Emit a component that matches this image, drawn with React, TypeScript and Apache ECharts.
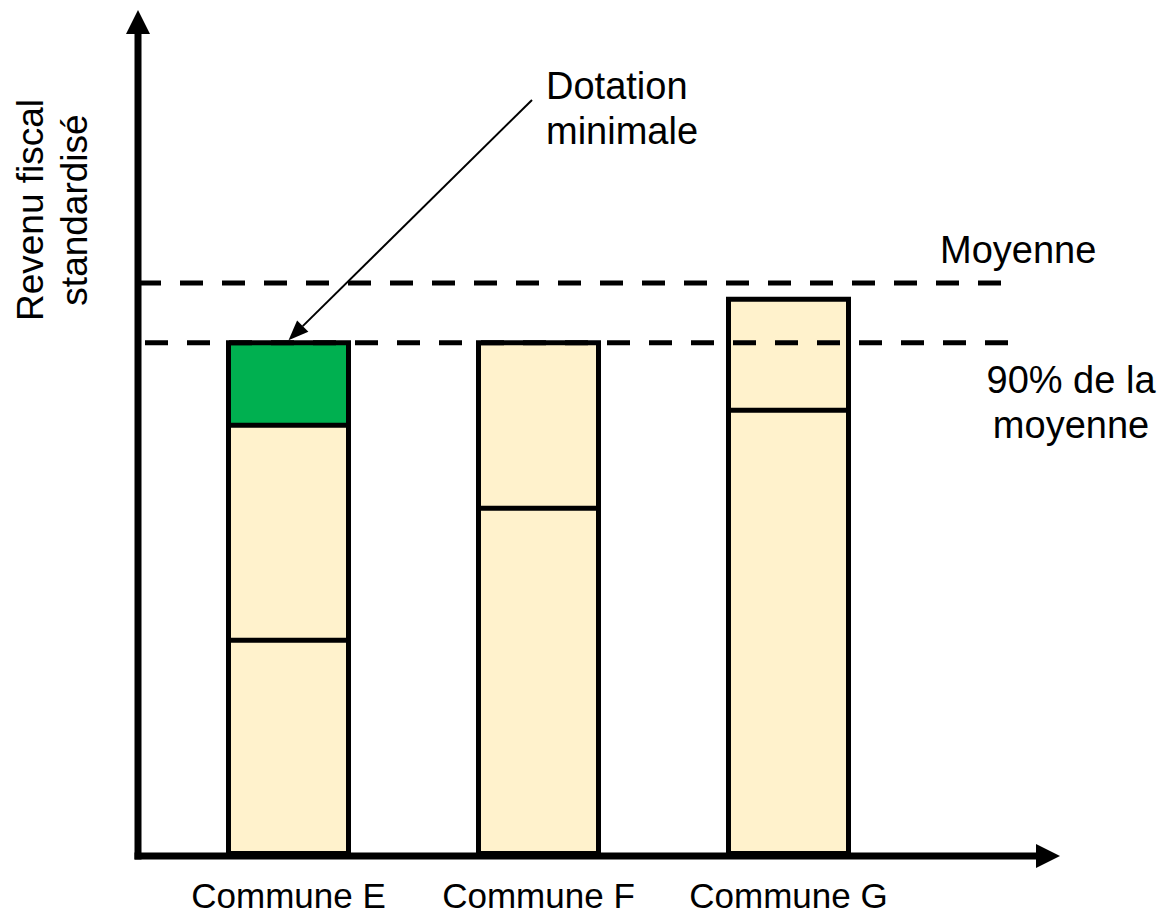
import React, { useEffect, useRef } from "react";
import * as echarts from "echarts";

const categories = ["Commune E", "Commune F", "Commune G"];
// cumulative heights of the segments of each bar (revenu fiscal standardisé, moyenne = 100)
const baseTop = [38.1, 61.1, 78.2];
const middleTop = [75.6, 90, 97.6];
const dotationTop: (number | null)[] = [90, null, null];
const moyenneValue = 100;
const seuil90Value = 90;
const yMax = 145;

const FONT = "'Liberation Sans', Arial, sans-serif";
const CREAM = "#FFF2CC";
const GREEN = "#00B050";

export default function App() {
  const ref = useRef<HTMLDivElement>(null);
  useEffect(() => {
    if (!ref.current) return;
    const chart = echarts.init(ref.current, null, { renderer: "svg" });
    const barStyle = (color: string) => ({
      color,
      borderColor: "#000",
      borderWidth: 5,
    });
    chart.setOption({
      animation: false,
      grid: { left: 163.5, width: 750, top: 25, bottom: 60 },
      xAxis: {
        type: "category",
        data: categories,
        axisLine: { show: false },
        axisTick: { show: false },
        axisLabel: { interval: 0, fontSize: 35, lineHeight: 30, color: "#000", fontFamily: FONT, margin: 24 },
      },
      yAxis: { type: "value", min: 0, max: yMax, show: false, splitLine: { show: false } },
      series: [
        { type: "bar", barWidth: 125, barGap: "-100%", data: dotationTop, itemStyle: barStyle(GREEN) },
        { type: "bar", barWidth: 125, barGap: "-100%", data: middleTop, itemStyle: barStyle(CREAM) },
        { type: "bar", barWidth: 125, barGap: "-100%", data: baseTop, itemStyle: barStyle(CREAM) },
      ],
    });

    const yPix = (v: number) => chart.convertToPixel({ yAxisIndex: 0 }, v) as number;
    const tipPt = chart.convertToPixel({ xAxisIndex: 0, yAxisIndex: 0 }, [0, seuil90Value]) as number[];
    const axisY = yPix(0);
    const yMoy = yPix(moyenneValue);
    const y90 = yPix(seuil90Value) + 2.5;

    const start = [532, 100];
    const tip = [tipPt[0], tipPt[1]];
    const dx = tip[0] - start[0];
    const dy = tip[1] - start[1];
    const len = Math.sqrt(dx * dx + dy * dy);
    const ux = dx / len, uy = dy / len;
    const hl = 20, hw = 8;
    const base = [tip[0] - ux * hl, tip[1] - uy * hl];
    const nx = -uy, ny = ux;

    const black = "#000";
    chart.setOption({
      graphic: [
        // y axis
        { type: "line", z: 100, shape: { x1: 138, y1: axisY + 3.5, x2: 138, y2: 30 }, style: { stroke: black, lineWidth: 7 } },
        { type: "polygon", z: 100, shape: { points: [[138, 10], [126, 34], [150, 34]] }, style: { fill: black } },
        // x axis
        { type: "line", z: 100, shape: { x1: 134.5, y1: axisY, x2: 1040, y2: axisY }, style: { stroke: black, lineWidth: 7 } },
        { type: "polygon", z: 100, shape: { points: [[1060, axisY], [1036, axisY - 12], [1036, axisY + 12]] }, style: { fill: black } },
        // dashed reference lines
        { type: "line", z: 100, shape: { x1: 138, y1: yMoy, x2: 1002, y2: yMoy }, style: { stroke: black, lineWidth: 5, lineDash: [23, 19] } },
        { type: "line", z: 100, shape: { x1: 145, y1: y90, x2: 1008, y2: y90 }, style: { stroke: black, lineWidth: 5, lineDash: [23, 19] } },
        // annotation arrow
        { type: "line", z: 100, shape: { x1: start[0], y1: start[1], x2: base[0], y2: base[1] }, style: { stroke: black, lineWidth: 2 } },
        {
          type: "polygon", z: 100,
          shape: { points: [[tip[0], tip[1]], [base[0] + nx * hw, base[1] + ny * hw], [base[0] - nx * hw, base[1] - ny * hw]] },
          style: { fill: black },
        },
        // texts
        {
          type: "text", z: 100, x: 546, y: 108.5,
          style: { text: "Dotation\nminimale", font: `38px ${FONT}`, fill: black, align: "left", verticalAlign: "middle", lineHeight: 45 },
        },
        {
          type: "text", z: 100, x: 940, y: 250,
          style: { text: "Moyenne", font: `38px ${FONT}`, fill: black, align: "left", verticalAlign: "middle" },
        },
        {
          type: "text", z: 100, x: 1071, y: 402,
          style: { text: "90% de la\nmoyenne", font: `38px ${FONT}`, fill: black, align: "center", verticalAlign: "middle", lineHeight: 45 },
        },
        {
          type: "text", z: 100, x: 52, y: 210, rotation: Math.PI / 2,
          style: { text: "Revenu fiscal\nstandardisé", font: `37px ${FONT}`, fill: black, align: "center", verticalAlign: "middle", lineHeight: 44 },
        },
      ],
    });
    return () => chart.dispose();
  }, []);
  return <div ref={ref} style={{ position: "fixed", left: 0, top: 0, width: 1169, height: 916, background: "#fff" }} />;
}
